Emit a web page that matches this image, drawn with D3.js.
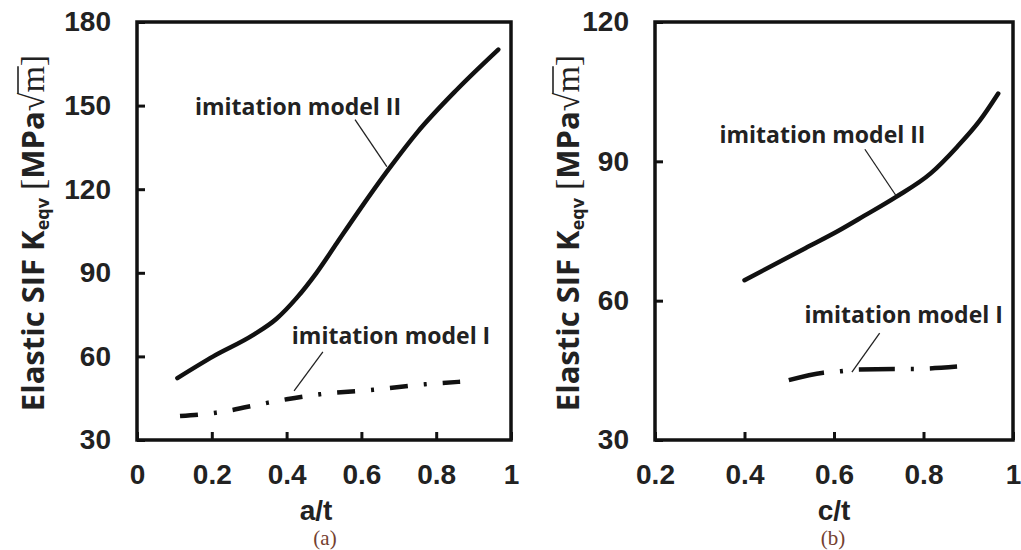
<!DOCTYPE html>
<html lang="en">
<head>
<meta charset="UTF-8">
<title>Elastic SIF Keqv</title>
<script src="https://d3js.org/d3.v7.min.js"></script>
<style>
    body {
        margin: 0;
        background: #fff;
    }
    svg {
        display: block;
        font-family: "Liberation Sans", Arial, sans-serif;
    }
    .tick text {
        font-size: 28px;
        font-weight: bold;
        fill: #222;
        font-family: "Liberation Sans", Arial, sans-serif;
    }
    .tick line {
        stroke: #111;
        stroke-width: 3;
    }
    .frame {
        fill: none;
        stroke: #111;
        stroke-width: 3.5;
    }
    .axis-title {
        font-size: 28px;
        font-weight: bold;
        fill: #222;
    }
    .y-title {
        font-family: "Open Sans", "Liberation Sans", sans-serif;
        font-size: 31px;
        font-weight: bold;
        fill: #222;
    }
    .serif {
        font-family: "Liberation Serif", "Times New Roman", serif;
        font-weight: normal;
        font-size: 34px;
    }
    .radical {
        stroke: #222;
        stroke-width: 1.6;
    }
    .caption {
        font-family: "Liberation Serif", "Times New Roman", serif;
        font-size: 21px;
        fill: #74402f;
    }
    .note {
        font-family: "Open Sans", "Liberation Sans", sans-serif;
        font-size: 23px;
        font-weight: bold;
        fill: #222;
    }
    .leader {
        stroke: #222;
        stroke-width: 1.3;
    }
    .curve {
        fill: none;
        stroke: #111;
        stroke-width: 4.5;
    }
</style>
</head>
<body>
<svg width="1021" height="550"></svg>
<script>
    // panel (a): Keqv against a/t
    const aRatio2 = [0.108, 0.204, 0.311, 0.373, 0.427, 0.48, 0.534, 0.59, 0.672, 0.75, 0.855, 0.966];
    const aModel2 = [52.2, 60, 67.7, 73.5, 81, 90, 100.6, 111.6, 127, 140.5, 155.7, 170.1];
    const aRatio1 = [0.115, 0.211, 0.351, 0.4, 0.489, 0.632, 0.77, 0.864];
    const aModel1 = [38.6, 39.8, 43.4, 44.6, 46.4, 48, 50, 50.9];
    const aXTicks = [0, 0.2, 0.4, 0.6, 0.8, 1];
    const aYTicks = [30, 60, 90, 120, 150, 180];

    // panel (b): Keqv against c/t
    const bRatio2 = [0.4, 0.536, 0.609, 0.668, 0.738, 0.816, 0.875, 0.926, 0.967];
    const bModel2 = [64.4, 71.3, 75, 78.3, 82.3, 87.4, 93.1, 98.8, 104.6];
    const bRatio1 = [0.499, 0.576, 0.615, 0.654, 0.735, 0.773, 0.875];
    const bModel1 = [42.9, 44.5, 44.8, 45.2, 45.3, 45.3, 45.8];
    const bXTicks = [0.2, 0.4, 0.6, 0.8, 1];
    const bYTicks = [30, 60, 90, 120];

    const labelII = "imitation model II";
    const labelI = "imitation model I";

    const svg = d3.select("svg");
    const plotTop = 22, plotBottom = 440;

    const panels = [
        {
            left: 137, right: 511, xDomain: [0, 1], yDomain: [30, 180],
            xTicks: aXTicks, yTicks: aYTicks, xTitle: "a/t", caption: "(a)",
            x2: aRatio2, y2: aModel2, x1: aRatio1, y1: aModel1,
            dash: "18,16,3,16", yTitleX: 44, xTitleShift: -8, capShift: 1,
            notes: [
                {text: labelII, at: [0.155, 146.8], from: [0.583, 145], to: [0.668, 128.1]},
                {text: labelI, at: [0.414, 64.5], from: [0.497, 61.6], to: [0.42, 47.6]}
            ]
        },
        {
            left: 655, right: 1013, xDomain: [0.2, 1], yDomain: [30, 120],
            xTicks: bXTicks, yTicks: bYTicks, xTitle: "c/t", caption: "(b)",
            x2: bRatio2, y2: bModel2, x1: bRatio1, y1: bModel1,
            dash: "36,16,3,16", yTitleX: 579, xTitleShift: 0, capShift: -1,
            notes: [
                {text: labelII, at: [0.344, 93.9], from: [0.669, 92.6], to: [0.738, 82.7]},
                {text: labelI, at: [0.534, 55.2], from: [0.702, 53], to: [0.64, 44.6]}
            ]
        }
    ];

    panels.forEach(p => {
        const x = d3.scaleLinear().domain(p.xDomain).range([p.left, p.right]);
        const y = d3.scaleLinear().domain(p.yDomain).range([plotBottom, plotTop]);
        const g = svg.append("g");

        // axes with inward ticks
        g.append("g")
            .attr("transform", `translate(0,${plotBottom})`)
            .call(d3.axisBottom(x).tickValues(p.xTicks).tickSize(-8).tickPadding(24).tickFormat(d3.format("~g")))
            .call(a => a.select(".domain").remove());

        g.append("g")
            .attr("transform", `translate(${p.left},0)`)
            .call(d3.axisLeft(y).tickValues(p.yTicks).tickSize(-8).tickPadding(26))
            .call(a => a.select(".domain").remove());

        g.append("rect")
            .attr("class", "frame")
            .attr("x", p.left).attr("y", plotTop)
            .attr("width", p.right - p.left).attr("height", plotBottom - plotTop);

        // curves
        const line = d3.line()
            .x(d => x(d[0]))
            .y(d => y(d[1]))
            .curve(d3.curveMonotoneX);

        g.append("path")
            .attr("class", "curve")
            .attr("stroke-linecap", "round")
            .attr("d", line(d3.zip(p.x2, p.y2)));

        g.append("path")
            .attr("class", "curve")
            .attr("stroke-dasharray", p.dash)
            .attr("d", line(d3.zip(p.x1, p.y1)));

        // annotations
        p.notes.forEach(n => {
            g.append("text")
                .attr("class", "note")
                .attr("x", x(n.at[0]))
                .attr("y", y(n.at[1]))
                .text(n.text);
            g.append("line")
                .attr("class", "leader")
                .attr("x1", x(n.from[0])).attr("y1", y(n.from[1]))
                .attr("x2", x(n.to[0])).attr("y2", y(n.to[1]));
        });

        // axis titles
        const mid = (p.left + p.right) / 2;
        g.append("text")
            .attr("class", "axis-title")
            .attr("x", mid + p.xTitleShift)
            .attr("y", 520)
            .attr("text-anchor", "middle")
            .text(p.xTitle);

        g.append("text")
            .attr("class", "caption")
            .attr("x", mid + p.capShift)
            .attr("y", 545)
            .attr("text-anchor", "middle")
            .text(p.caption);

        // rotated y title with a radical sign over m
        const yg = g.append("g")
            .attr("transform", `translate(${p.yTitleX},${(plotTop + plotBottom) / 2 + 2}) rotate(-90)`);
        const yl = yg.append("text")
            .attr("class", "y-title")
            .attr("text-anchor", "middle");
        yl.append("tspan").text("Elastic SIF K");
        yl.append("tspan").attr("font-size", 18).attr("dy", 5).text("eqv");
        yl.append("tspan").attr("dy", -5).text(" ");
        yl.append("tspan").attr("class", "serif").text("[");
        yl.append("tspan").text("MPa");
        const rad = yl.append("tspan").attr("class", "serif").text("√");
        const mm = yl.append("tspan").attr("class", "serif").text("m");
        yl.append("tspan").attr("class", "serif").text("]");

        const r = rad.node().getExtentOfChar(0);
        const m = mm.node().getExtentOfChar(0);
        yg.append("line")
            .attr("class", "radical")
            .attr("x1", r.x + r.width - 1.5)
            .attr("x2", m.x + m.width)
            .attr("y1", -26).attr("y2", -26);
    });
</script>
</body>
</html>
